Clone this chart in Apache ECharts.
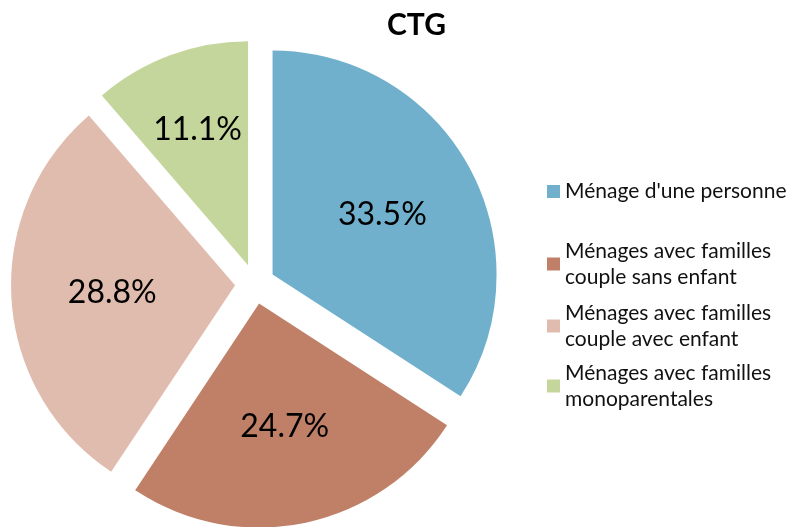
<!DOCTYPE html>
<html>
<head>
<meta charset="utf-8">
<script src="https://cdn.jsdelivr.net/npm/echarts@6/dist/echarts.min.js"></script>
<style>
  html, body { margin: 0; padding: 0; background: #fff; }
  #main { width: 787px; height: 527px; }
</style>
</head>
<body>
<div id="main"></div>
<script>
const categories = [
  "Ménage d'une personne",
  'Ménages avec familles\ncouple sans enfant',
  'Ménages avec familles\ncouple avec enfant',
  'Ménages avec familles\nmonoparentales'
];
const values = [33.5, 24.7, 28.8, 11.1];
const colors = ['#70B0CD', '#C08068', '#E0BCAE', '#C4D69B'];

// first-line centre of each legend entry
const legendRowY = [191.5, 250, 312, 372];
const LINE = 26;
// extra radial push of the percentage labels
const labelPush = [10, 11, 8, 30];

const CX = 255, CY = 284;

const chart = echarts.init(document.getElementById('main'));

const legends = categories.map((name, i) => {
  const lines = name.split('\n').length;
  return {
    orient: 'vertical',
    left: 547,
    top: legendRowY[i] - LINE / 2 - (lines - 1) * 12,
    padding: 0,
    icon: 'rect',
    itemWidth: 13,
    itemHeight: 13,
    itemGap: 0,
    selectedMode: false,
    data: [name],
    textStyle: {
      fontFamily: 'Lato',
      fontSize: 21,
      color: '#111',
      lineHeight: LINE,
      padding: [LINE * (lines - 1), 0, 0, 0]
    }
  };
});

const option = {
  animation: false,
  title: {
    text: 'CTG',
    left: 387,
    top: 10,
    padding: 0,
    textStyle: { fontFamily: 'Lato', fontWeight: 'bold', fontSize: 30, color: '#000' }
  },
  legend: legends,
  series: [{
    type: 'pie',
    center: [CX, CY],
    radius: 224,
    startAngle: 90,
    clockwise: true,
    selectedMode: 'multiple',
    selectedOffset: 20,
    emphasis: { disabled: true },
    label: {
      show: true,
      position: 'inside',
      fontFamily: 'Lato',
      fontSize: 32,
      color: '#000',
      formatter: p => p.value.toFixed(1) + '%'
    },
    labelLine: { show: false },
    labelLayout: function (params) {
      const r = params.labelRect;
      const dx = r.x + r.width / 2 - CX;
      const dy = r.y + r.height / 2 - CY;
      const len = Math.sqrt(dx * dx + dy * dy) || 1;
      const push = labelPush[params.dataIndex];
      return { dx: dx / len * push, dy: dy / len * push };
    },
    data: categories.map((name, i) => ({
      name: name,
      value: values[i],
      selected: true,
      itemStyle: { color: colors[i] }
    }))
  }]
};

chart.setOption(option);
</script>
</body>
</html>
